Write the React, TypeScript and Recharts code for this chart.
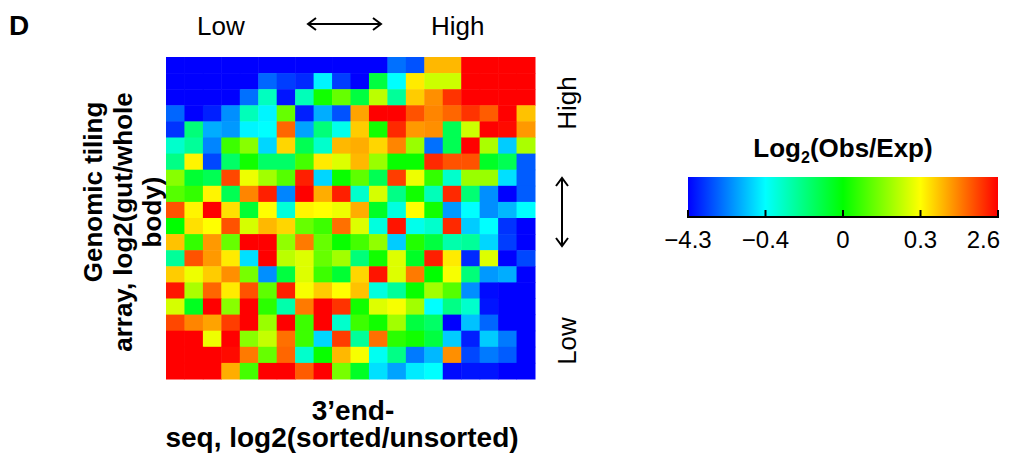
import { Scatter, ScatterChart, XAxis, YAxis } from "recharts";

const W = 1009;
const H = 456;
const PLOT = { left: 166, top: 57, right: 535, bottom: 379 };
const FONT = "Arial, 'Liberation Sans', Helvetica, sans-serif";

// log2(obs/exp) per bin, rows from high tiling ratio (top) to low (bottom),
// columns from low 3'end-seq ratio (left) to high (right)
const tilingRows: number[][] = [
  [-4.3, -4.3, -4.3, -4.3, -4.3, -4.3, -4.3, -4.3, -4.3, -4.3, -4.3, -4.3, -2.58, -3.05, 0.94, 0.94, 2.6, 2.6, 2.6, 2.6],
  [-4.3, -4.3, -4.3, -4.3, -4.3, -2.74, -3.36, -3.68, -0.56, -3.36, -4.3, -0.1, -0.4, 0.48, 0.24, 0.24, 2.6, 2.6, 2.6, 2.6],
  [-4.3, -4.3, -4.3, -4.3, -2.58, -0.3, -3.99, -0.29, 0.02, 0.12, -0.1, 0.22, -0.24, 0.76, 1.31, 2.14, 2.6, 2.6, 2.6, 2.6],
  [-2.74, -4.3, -3.83, -2.12, -0.29, -0.56, 0.12, -3.83, -1.65, -3.05, 1.13, 2.6, 2.6, 1.86, 1.4, 1.68, 2.14, 1.77, 2.6, 0.85],
  [-3.52, -0.19, -1.65, -1.96, -0.56, -0.4, 1.68, -1.8, -0.19, -0.37, 0.76, 0.02, 2.23, 1.22, 1.31, -0.13, 0.24, 2.6, 2.51, 1.22],
  [-0.32, -0.24, -2.27, 0.07, 0.16, -1.02, 0.67, -0.13, -0.32, 0.94, 1.04, 0.67, 1.4, 0.18, -2.58, -0.13, 2.6, 0.2, -1.18, 0.2],
  [-0.21, 0.39, -3.21, -0.16, 0.02, -0.16, -0.16, 0.08, 0.48, 0.26, 0.94, 0.18, 0.01, 0.01, 2.23, 1.86, 1.86, -0.06, -0.13, -2.9],
  [0.16, -0.08, -0.13, 1.96, 0.28, 0.19, 0.1, 2.32, -1.02, 0.01, 0.11, -0.13, 2.05, 0.28, 0.06, -0.32, 0.18, 0.18, -0.87, -2.9],
  [0.1, 0.06, 0.39, -0.13, 1.4, 2.32, -2.27, 2.6, 1.04, 2.32, -0.32, 0.25, -0.21, 0.02, -0.29, 2.23, -0.18, -2.12, -4.3, -2.9],
  [1.86, 0.39, 2.6, 0.58, -0.08, 0.3, -0.34, 0.39, 0.3, 0.28, 1.04, -0.06, -0.35, 0.3, 0.02, -1.96, -0.4, -2.12, -1.49, -0.4],
  [0, 0.58, 0.3, 1.86, 0.25, 0.94, 0.67, 0.12, 0.07, 1.59, 0.26, -0.35, 2.42, -0.37, -0.32, 2.23, -1.18, -0.4, -3.52, -4.3],
  [0.85, 0.06, 1.22, 0.12, 2.6, 2.6, 0.17, 1.5, 0.12, 0.01, 0.08, 0.17, -1.18, 0.04, -0.1, -0.27, -0.24, -1.02, -3.36, -4.3],
  [-0.24, 1.86, 1.22, 0.48, -0.87, 2.6, 0.22, 0.26, 0.12, 0.19, -0.19, 0.02, 0.26, -0.06, 2.32, 0.48, -3.68, 0.26, -4.3, -3.21],
  [0.76, 0.28, 0.76, 1.31, 0.14, -2.12, -0.1, 0.26, 0.07, -0.08, 0.67, 2.42, 0.26, 1.5, 0, 0.29, -0.19, -1.96, -1.65, -4.3],
  [2.42, 0.2, 1.68, 0.48, 1.86, 0.11, 2.32, 0.29, 0.76, 0.3, 0.85, -0.35, -0.24, 0.01, 0.19, 0.1, -2.12, -4.14, -4.3, -4.3],
  [0.25, -0.05, 2.6, 0.16, 2.6, 0.05, -0.27, 1.5, 2.6, 2.14, 0.02, 0.26, 0.29, 0.19, -0.4, -0.21, -0.32, -3.99, -4.3, -4.3],
  [1.96, 1.4, 1.13, 2.05, 2.6, 0.18, 2.6, 0.07, 2.6, -0.32, 0.07, 0.02, 0.19, -0.1, -0.16, -4.3, -1.34, -2.74, -4.3, -4.3],
  [2.6, 2.6, 0.28, 2.6, 0.16, 0.23, 1.59, 0.07, -1.02, 2.05, -0.24, 1.59, 0.05, 0.02, -0.1, -1.18, -3.83, -1.18, -2.43, -4.3],
  [2.6, 2.6, 2.6, 2.51, 1.5, 0.12, 1.68, -0.32, 0.01, 0.94, 0.29, -0.38, -0.21, -2.43, -1.49, 1.31, -3.21, -2.43, -2.9, -4.3],
  [2.6, 2.6, 2.6, 1.04, 0.08, 2.6, 2.6, 1.77, 2.6, 0.14, -0.06, -0.87, -1.8, -0.71, -0.4, -4.14, -3.99, -3.99, -4.3, -4.3],
];

// colour scale breakpoints, evenly spaced along the bar
const scaleStops = [-4.3, -0.4, 0, 0.3, 2.6];
const scaleColors = ["#0000ff", "#00ffff", "#00ff00", "#ffff00", "#ff0000"];

const ROWS = tilingRows.length;
const COLS = tilingRows[0].length;
const CELL_W = (PLOT.right - PLOT.left) / COLS;
const CELL_H = (PLOT.bottom - PLOT.top) / ROWS;

const cells = tilingRows.flatMap((row, r) =>
  row.map((v, c) => ({ x: c + 0.5, y: ROWS - r - 0.5, v }))
);

function colorFor(v: number) {
  let t = 1;
  for (let i = 0; i < scaleStops.length - 1; i++) {
    if (v <= scaleStops[i + 1]) {
      const f = (v - scaleStops[i]) / (scaleStops[i + 1] - scaleStops[i]);
      t = (i + Math.max(0, Math.min(1, f))) / (scaleStops.length - 1);
      break;
    }
  }
  return `hsl(${240 * (1 - t)}, 100%, 50%)`;
}

function HeatCell(props: any) {
  const { cx, cy, payload } = props;
  return (
    <rect
      x={cx - CELL_W / 2}
      y={cy - CELL_H / 2}
      width={CELL_W + 0.5}
      height={CELL_H + 0.5}
      fill={colorFor(payload.v)}
    />
  );
}

function Label({ x, y, text, size = 26, bold = false, anchor = "middle", rotate = 0 }: any) {
  return (
    <text
      x={0}
      y={0}
      transform={`translate(${x},${y}) rotate(${rotate})`}
      textAnchor={anchor}
      fontSize={size}
      fontWeight={bold ? "bold" : "normal"}
      fontFamily={FONT}
      fill="#000"
    >
      {text}
    </text>
  );
}

function Arrow({ x1, y1, x2, y2 }: any) {
  const horiz = y1 === y2;
  const h = 8;
  const s = 6;
  const head1 = horiz
    ? `${x1 + h},${y1 - s} ${x1},${y1} ${x1 + h},${y1 + s}`
    : `${x1 - s},${y1 + h} ${x1},${y1} ${x1 + s},${y1 + h}`;
  const head2 = horiz
    ? `${x2 - h},${y2 - s} ${x2},${y2} ${x2 - h},${y2 + s}`
    : `${x2 - s},${y2 - h} ${x2},${y2} ${x2 + s},${y2 - h}`;
  return (
    <g stroke="#000" strokeWidth={2} fill="none">
      <line x1={x1} y1={y1} x2={x2} y2={y2} />
      <polyline points={head1} />
      <polyline points={head2} />
    </g>
  );
}

const BAR = { left: 688, right: 998, top: 177, bottom: 217 };

export default function App() {
  const last = scaleStops.length - 1;
  return (
    <div style={{ position: "absolute", left: 0, top: 0, width: W, height: H, background: "#fff" }}>
      <ScatterChart
        width={W}
        height={H}
        margin={{ top: PLOT.top, left: PLOT.left, right: W - PLOT.right, bottom: H - PLOT.bottom }}
      >
        <XAxis type="number" dataKey="x" domain={[0, COLS]} hide />
        <YAxis type="number" dataKey="y" domain={[0, ROWS]} hide />
        <Scatter data={cells} shape={HeatCell} isAnimationActive={false} />
      </ScatterChart>

      <svg width={W} height={H} style={{ position: "absolute", left: 0, top: 0, pointerEvents: "none" }}>
        <Label x={9} y={35} text="D" size={28} bold anchor="start" />
        <Label x={197} y={35} text="Low" anchor="start" />
        <Arrow x1={308} y1={24} x2={381} y2={24} />
        <Label x={431} y={35} text="High" anchor="start" />

        <Label x={576} y={103} text="High" rotate={-90} />
        <Arrow x1={562} y1={178} x2={562} y2={246} />
        <Label x={576} y={341} text="Low" rotate={-90} />

        <Label x={102} y={192} text="Genomic tiling" bold rotate={-90} />
        <Label x={132} y={222} text="array, log2(gut/whole" bold rotate={-90} />
        <Label x={161} y={212} text="body)" bold rotate={-90} />

        <Label x={353} y={420} text="3’end-" size={28} bold />
        <Label x={342} y={447} text="seq, log2(sorted/unsorted)" size={28} bold />

        <text x={843} y={157} textAnchor="middle" fontSize={26} fontWeight="bold" fontFamily={FONT}>
          Log
          <tspan fontSize={16} dy={6}>2</tspan>
          <tspan dy={-6}>(Obs/Exp)</tspan>
        </text>

        <defs>
          <linearGradient id="log2Scale" x1="0" x2="1" y1="0" y2="0">
            {scaleColors.map((c, i) => (
              <stop key={c} offset={i / (scaleColors.length - 1)} stopColor={c} />
            ))}
          </linearGradient>
        </defs>
        <rect x={BAR.left} y={BAR.top} width={BAR.right - BAR.left} height={BAR.bottom - BAR.top} fill="url(#log2Scale)" />
        <line x1={BAR.left - 1} y1={BAR.bottom} x2={BAR.right + 1} y2={BAR.bottom} stroke="#000" strokeWidth={2} />
        {scaleStops.map((s, i) => {
          const x = BAR.left + (i / last) * (BAR.right - BAR.left);
          return (
            <g key={s}>
              <line x1={x} y1={BAR.bottom - 7} x2={x} y2={BAR.bottom} stroke="#000" strokeWidth={2} />
              <Label
                x={i === last ? x + 2 : x}
                y={248}
                text={String(s).replace("-", "−")}
                size={24}
                anchor={i === last ? "end" : "middle"}
              />
            </g>
          );
        })}
      </svg>
    </div>
  );
}
